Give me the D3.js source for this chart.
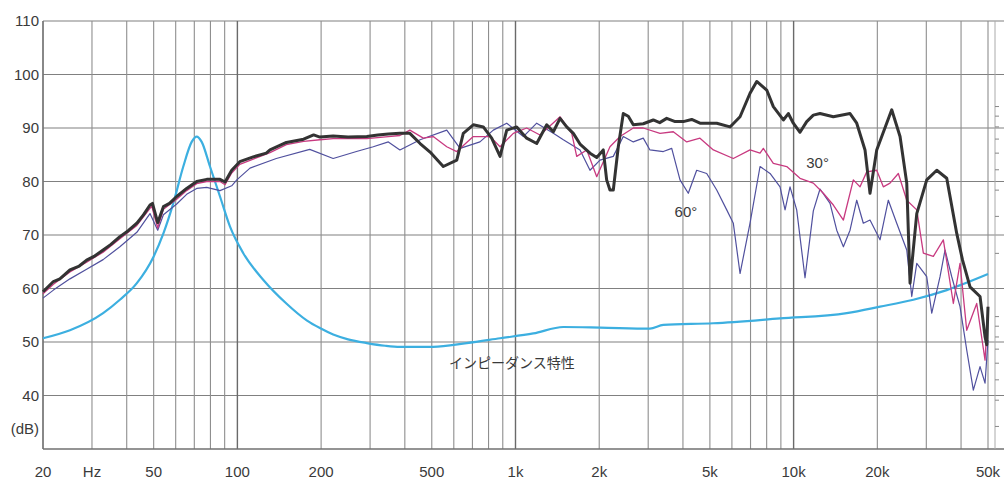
<!DOCTYPE html>
<html>
<head>
<meta charset="utf-8">
<script src="https://cdn.jsdelivr.net/npm/d3@7"></script>
<style>
  body { margin: 0; background: #fff; }
  svg { display: block; }
  text { font-family: "Liberation Sans", Arial, sans-serif; fill: #3a3a3a; }
</style>
</head>
<body>
<svg></svg>
<script>
// on-axis (0 deg)
const hz0 = [20, 21.8, 23, 25, 27, 28.7, 30.5, 32.9, 35, 37.8, 40.5, 43.5, 46, 48.5, 49.5, 51.7, 54.2, 57, 60.5, 65.7, 71.4, 77.6, 86.6, 90.3, 95.4, 102, 114, 127, 131, 150, 173, 188, 198, 221, 250, 292, 320, 349, 384, 417, 454, 493, 550, 615, 649, 705, 766, 821, 880, 930, 1010, 1097, 1192, 1295, 1368, 1446, 1528, 1614, 1706, 1853, 1959, 2068, 2127, 2186, 2247, 2342, 2441, 2544, 2652, 2880, 3129, 3300, 3497, 3750, 4012, 4300, 4606, 5291, 5906, 6418, 6971, 7369, 8005, 8454, 9185, 9572, 9976, 10544, 11145, 11773, 12443, 13895, 15954, 16864, 18061, 18825, 19899, 22531, 24139, 25517, 26225, 27722, 30110, 32713, 35530, 38600, 40500, 43089, 46808, 48786, 49475, 50000];
const db0 = [59.4, 61.3, 61.8, 63.5, 64.2, 65.3, 66.0, 67.2, 68.2, 69.7, 70.8, 72.2, 73.8, 75.6, 75.9, 72.3, 75.3, 75.9, 77.2, 78.7, 80.0, 80.4, 80.4, 79.9, 82.1, 83.7, 84.6, 85.3, 85.9, 87.3, 87.9, 88.7, 88.3, 88.5, 88.3, 88.4, 88.7, 88.9, 89.0, 89.0, 87.1, 85.5, 82.8, 84.0, 89.0, 90.6, 90.2, 88.1, 84.7, 89.6, 90.2, 88.1, 87.1, 90.6, 89.3, 91.8, 90.2, 89.0, 87.0, 85.3, 84.5, 85.9, 80.3, 78.4, 78.4, 86.5, 92.7, 92.2, 90.6, 90.8, 91.5, 91.0, 91.8, 91.2, 91.2, 91.6, 90.9, 90.9, 90.2, 92.1, 96.5, 98.7, 97.1, 94.0, 91.5, 92.7, 90.9, 89.2, 91.2, 92.4, 92.7, 92.1, 92.7, 90.9, 85.9, 77.8, 85.9, 93.4, 88.4, 79.7, 61.0, 74.0, 80.3, 82.1, 80.6, 70.3, 65.3, 60.3, 58.5, 51.0, 49.5, 56.6];

// 30 deg
const hz30 = [20, 21.8, 25, 28.7, 32.9, 37.8, 43.5, 49.2, 51.7, 54.2, 60.5, 65.7, 71.4, 77.6, 86.6, 90.3, 95.4, 102, 114, 131, 150, 173, 198, 221, 292, 349, 384, 417, 466, 506, 566, 615, 705, 810, 880, 982, 1097, 1225, 1446, 1593, 1660, 1804, 1959, 2186, 2376, 2652, 2880, 3308, 3693, 4127, 4606, 5145, 6070, 6971, 7573, 7783, 8454, 9447, 10544, 11773, 12790, 13895, 15100, 16397, 17332, 18317, 19899, 21016, 22216, 23800, 25517, 27722, 29277, 31800, 34546, 37531, 39660, 41923, 45545, 48786, 50000];
const db30 = [59.0, 60.8, 63.1, 64.9, 66.8, 69.3, 71.8, 75.4, 71.3, 74.8, 76.7, 78.3, 79.6, 80.0, 80.0, 79.4, 81.6, 83.2, 84.2, 85.4, 86.9, 87.5, 87.8, 88.0, 88.0, 88.4, 88.6, 89.6, 88.1, 88.4, 86.5, 85.6, 88.4, 88.4, 86.5, 89.0, 90.0, 88.7, 92.1, 89.0, 84.7, 85.9, 80.9, 86.5, 88.4, 90.0, 90.0, 89.0, 89.3, 87.4, 88.1, 85.9, 84.3, 85.9, 85.3, 86.2, 83.4, 82.8, 80.6, 79.7, 77.8, 75.6, 72.8, 80.3, 79.0, 81.8, 82.1, 79.0, 79.7, 81.5, 76.5, 74.7, 66.6, 66.0, 69.1, 57.2, 64.7, 52.2, 57.2, 46.6, 56.6];

// 60 deg
const hz60 = [20, 21.8, 25, 28.7, 32.9, 37.8, 43.5, 48.5, 51.7, 54.2, 60.5, 65.7, 71.4, 77.6, 86.6, 95.4, 99.5, 111, 138, 182, 221, 268, 308, 349, 384, 454, 566, 632, 745, 832, 930, 1067, 1192, 1368, 1486, 1706, 1853, 2013, 2247, 2441, 2652, 2880, 3044, 3400, 3645, 3904, 4181, 4482, 4870, 5291, 5748, 6070, 6418, 6971, 7573, 8227, 8937, 9316, 9707, 10259, 10990, 11773, 12443, 13520, 14290, 15100, 15954, 16864, 17810, 18825, 20451, 21906, 23484, 25517, 26597, 27722, 30110, 31386, 33613, 35034, 37034, 39660, 41923, 44282, 46808, 48786, 50000];
const db60 = [58.2, 59.7, 61.8, 63.6, 65.4, 67.8, 70.5, 74.0, 70.9, 73.8, 75.8, 77.6, 78.7, 78.9, 78.3, 79.2, 80.3, 82.5, 84.3, 86.0, 84.3, 85.6, 86.5, 87.4, 85.9, 87.8, 89.6, 86.2, 87.4, 89.6, 90.9, 88.4, 90.9, 89.0, 87.8, 85.9, 82.1, 84.0, 84.7, 88.4, 87.4, 88.1, 85.9, 85.6, 86.2, 80.3, 77.8, 82.1, 81.5, 78.4, 74.7, 72.2, 62.8, 72.2, 82.8, 81.5, 79.0, 74.7, 79.0, 74.7, 62.0, 74.5, 78.6, 75.9, 70.9, 67.8, 70.9, 76.5, 72.2, 72.8, 69.1, 76.5, 72.2, 67.2, 58.5, 64.7, 62.2, 55.4, 62.2, 67.2, 62.2, 56.6, 48.5, 41.0, 45.4, 42.3, 50.4];

// impedance
const hzZ = [20, 25, 32.9, 37.8, 43.5, 49.9, 54.2, 58.8, 63.9, 68.5, 71.4, 74.4, 79.7, 86.6, 94, 105, 124, 150, 178, 198, 221, 250, 292, 340, 384, 506, 668, 880, 1159, 1486, 2013, 3044, 3400, 5145, 8937, 15524, 20451, 26954, 35530, 50000];
const dbZ = [50.7, 52.2, 55.4, 57.9, 61.0, 65.9, 70.3, 75.9, 82.8, 87.4, 88.4, 87.4, 82.8, 77.2, 71.6, 66.6, 61.6, 57.2, 54.0, 52.6, 51.4, 50.5, 49.8, 49.3, 49.1, 49.1, 49.8, 50.7, 51.6, 52.8, 52.7, 52.5, 53.2, 53.5, 54.4, 55.4, 56.6, 57.9, 59.7, 62.7];

const gridHz = [20, 30, 40, 50, 60, 70, 80, 90, 100, 200, 300, 400, 500, 600, 700, 800, 900, 1000, 2000, 3000, 4000, 5000, 6000, 7000, 8000, 9000, 10000, 20000, 30000, 40000, 50000];
const xTickHz = [20, 30, 50, 100, 200, 500, 1000, 2000, 5000, 10000, 20000, 50000];
const xTickText = ["20", "Hz", "50", "100", "200", "500", "1k", "2k", "5k", "10k", "20k", "50k"];
const yTicks = [40, 50, 60, 70, 80, 90, 100, 110];
const ohmTicks = [3, 4, 5, 6, 7, 8, 9, 10, 20, 30, 40, 50, 60, 70, 80, 90, 100];

const w = 1004, h = 482;
const svg = d3.select("svg").attr("width", w).attr("height", h);

const x = d3.scaleLog().domain([20, 50000]).range([43, 988]);
const y = d3.scaleLinear().domain([30, 110]).range([449, 21]);
const yOhm = d3.scaleLog().domain([2.33, 254]).range([449, 21]);

// grid
svg.append("g").selectAll("line")
  .data(yTicks)
  .enter().append("line")
  .attr("x1", 43).attr("x2", 1004)
  .attr("y1", d => y(d)).attr("y2", d => y(d))
  .attr("stroke", "#808080").attr("stroke-width", 1.2);

svg.append("g").selectAll("line")
  .data(gridHz)
  .enter().append("line")
  .attr("x1", d => x(d)).attr("x2", d => x(d))
  .attr("y1", 21).attr("y2", 449)
  .attr("stroke", d => [100, 1000, 10000].includes(d) ? "#6a6a6a" : "#8e8e8e")
  .attr("stroke-width", d => [100, 1000, 10000].includes(d) ? 1.4 : 1.1);

// frame
svg.append("line").attr("x1", 43).attr("x2", 43).attr("y1", 21).attr("y2", 449)
  .attr("stroke", "#707070").attr("stroke-width", 1.4);
svg.append("line").attr("x1", 43).attr("x2", 1004).attr("y1", 449).attr("y2", 449)
  .attr("stroke", "#707070").attr("stroke-width", 1.4);

// right impedance axis (ticks only)
const ohmAxis = d3.axisRight(yOhm).tickValues(ohmTicks).tickSize(4).tickFormat("");
const ohmG = svg.append("g").attr("transform", "translate(995,0)").call(ohmAxis);
ohmG.select(".domain").attr("stroke", "#aaa").attr("d", "M0,21V449");
ohmG.selectAll(".tick line").attr("stroke", "#888");

// curves
function curve(hz, db, type) {
  return d3.line()
    .x((d, i) => x(hz[i]))
    .y(d => y(d))
    .curve(type || d3.curveLinear)(db);
}

svg.append("path").attr("d", curve(hzZ, dbZ, d3.curveMonotoneX))
  .attr("fill", "none").attr("stroke", "#3cafe0").attr("stroke-width", 2.2)
  .attr("stroke-linejoin", "round");
svg.append("path").attr("d", curve(hz60, db60))
  .attr("fill", "none").attr("stroke", "#50509e").attr("stroke-width", 1.2)
  .attr("stroke-linejoin", "round");
svg.append("path").attr("d", curve(hz30, db30))
  .attr("fill", "none").attr("stroke", "#c83a80").attr("stroke-width", 1.3)
  .attr("stroke-linejoin", "round");
svg.append("path").attr("d", curve(hz0, db0))
  .attr("fill", "none").attr("stroke", "#333").attr("stroke-width", 3)
  .attr("stroke-linejoin", "round");

// y labels
svg.append("g").selectAll("text")
  .data(yTicks)
  .enter().append("text")
  .attr("x", 39).attr("y", d => y(d) + 5)
  .attr("text-anchor", "end")
  .style("font-size", "15px")
  .text(d => d);
svg.append("text").attr("x", 39).attr("y", 434)
  .attr("text-anchor", "end").style("font-size", "15px").text("(dB)");

// x labels
svg.append("g").selectAll("text")
  .data(xTickHz)
  .enter().append("text")
  .attr("x", d => x(d)).attr("y", 477)
  .attr("text-anchor", "middle")
  .style("font-size", "15px")
  .text((d, i) => xTickText[i]);

// annotations
svg.append("text").attr("x", x(12200)).attr("y", y(82.5))
  .attr("text-anchor", "middle").style("font-size", "15px").text("30°");
svg.append("text").attr("x", x(4100)).attr("y", y(73.4))
  .attr("text-anchor", "middle").style("font-size", "15px").text("60°");
svg.append("text").attr("x", x(970)).attr("y", y(45.1))
  .attr("text-anchor", "middle")
  .style("font-family", "'Noto Sans CJK JP', sans-serif")
  .style("font-size", "14px")
  .text("インピーダンス特性");
</script>
</body>
</html>
